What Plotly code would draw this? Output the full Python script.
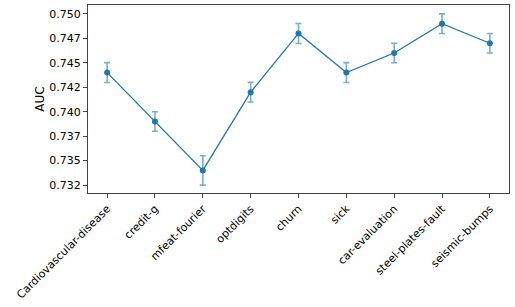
import plotly.graph_objects as go

datasets = ["Cardiovascular-disease", "credit-g", "mfeat-fourier", "optdigits", "churn",
            "sick", "car-evaluation", "steel-plates-fault", "seismic-bumps"]
auc = [0.7440, 0.7390, 0.7340, 0.7420, 0.7480, 0.7440, 0.7460, 0.7490, 0.7470]
auc_err = [0.00102, 0.00099, 0.0015, 0.0010, 0.00102, 0.00102, 0.0010, 0.0010, 0.0010]
ytick_vals = [0.7325, 0.735, 0.7375, 0.74, 0.7425, 0.745, 0.7475, 0.75]
ytick_text = ["0.732", "0.735", "0.737", "0.740", "0.742", "0.745", "0.747", "0.750"]

blue = "#1f77b4"
fig = go.Figure()
fig.add_trace(go.Scatter(
    x=list(range(len(datasets))), y=auc,
    mode="lines+markers",
    line=dict(color=blue, width=1.3),
    marker=dict(color=blue, size=6),
    error_y=dict(type="data", array=auc_err, visible=True,
                 color="rgba(31,119,180,0.6)", thickness=1.6, width=3),
    showlegend=False,
))

font = dict(family="DejaVu Sans", size=11, color="black")
fig.update_layout(
    width=515, height=307,
    margin=dict(l=88, r=6, t=5, b=114),
    plot_bgcolor="white", paper_bgcolor="white",
    font=font,
)
fig.update_xaxes(
    range=[-0.4, 8.4], automargin=False,
    tickmode="array", tickvals=list(range(len(datasets))), ticktext=datasets,
    tickangle=-45, ticks="outside", ticklen=4, tickcolor="#444",
    showline=True, linecolor="#444", linewidth=1, mirror=True,
    showgrid=False, zeroline=False, tickfont=font,
)
fig.update_yaxes(
    range=[0.73169, 0.75091], automargin=False,
    tickmode="array", tickvals=ytick_vals, ticktext=ytick_text,
    ticks="outside", ticklen=4, tickcolor="#444",
    showline=True, linecolor="#444", linewidth=1, mirror=True,
    showgrid=False, zeroline=False, tickfont=font,
    title=dict(text="AUC", font=dict(family="DejaVu Sans", size=12, color="black"), standoff=2),
)
fig.write_html("out.html", config={"displayModeBar": False},
               post_script="document.body.style.margin='0';")
